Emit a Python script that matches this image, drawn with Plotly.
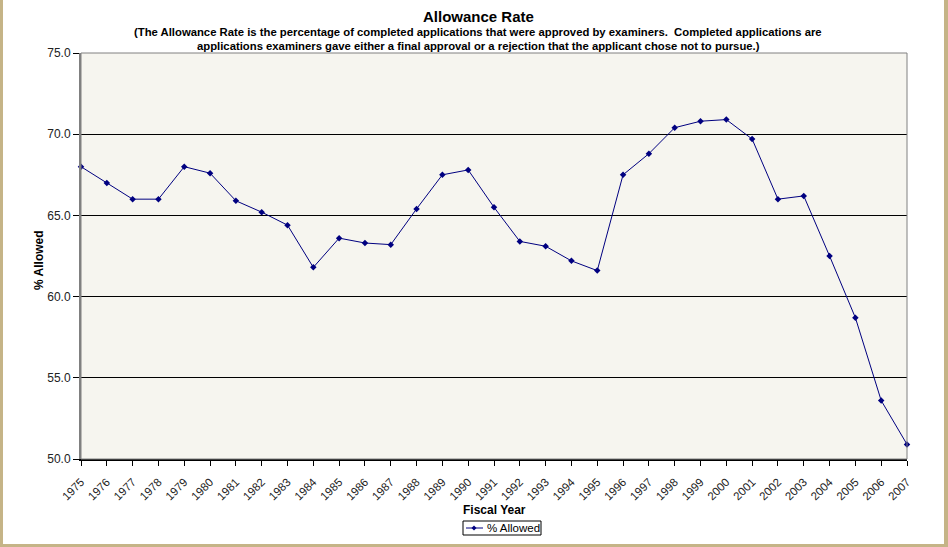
import plotly.graph_objects as go

# Fiscal years and allowance rate (% of completed applications approved)
years = list(range(1975, 2008))
pct_allowed = [68.0, 67.0, 66.0, 66.0, 68.0, 67.6, 65.9, 65.2, 64.4, 61.8,
               63.6, 63.3, 63.2, 65.4, 67.5, 67.8, 65.5, 63.4, 63.1, 62.2,
               61.6, 67.5, 68.8, 70.4, 70.8, 70.9, 69.7, 66.0, 66.2, 62.5,
               58.7, 53.6, 50.9]
y_ticks = [50, 55, 60, 65, 70, 75]

title_text = "Allowance Rate"
subtitle_lines = [
    "(The Allowance Rate is the percentage of completed applications that were approved by examiners.  Completed applications are",
    "applications examiners gave either a final approval or a rejection that the applicant chose not to pursue.)",
]
series_name = "% Allowed"

W, H = 948, 547
ML, MR, MT, MB = 81, 41, 53, 88
PW, PH = W - ML - MR, H - MT - MB


def px(xp):
    return (xp - ML) / PW


def py(yp):
    return 1 - (yp - MT) / PH


FONT = "Liberation Sans, Arial, sans-serif"
BORDER = "#c5b487"
NAVY = "#000080"

fig = go.Figure()
fig.add_trace(go.Scatter(
    x=years, y=pct_allowed, mode="lines+markers", name=series_name,
    line=dict(color=NAVY, width=1),
    marker=dict(symbol="diamond", size=5, color=NAVY),
    cliponaxis=False, showlegend=False,
))

# legend key drawn below the axis title
lg_x0, lg_x1, lg_y0, lg_y1 = 463, 541, 521, 535
lg_cy = (lg_y0 + lg_y1) / 2
dx, dy = 2.5, 2.5
sym_cx = 474

shapes = [
    # plot frame
    dict(type="rect", xref="paper", yref="paper", x0=0, x1=1, y0=0, y1=1,
         line=dict(color="#808080", width=1), layer="above"),
    # page border strips
    dict(type="rect", xref="paper", yref="paper", x0=px(0), x1=px(3),
         y0=py(H), y1=py(0), fillcolor=BORDER, line=dict(width=0)),
    dict(type="rect", xref="paper", yref="paper", x0=px(944), x1=px(W),
         y0=py(H), y1=py(0), fillcolor=BORDER, line=dict(width=0)),
    dict(type="rect", xref="paper", yref="paper", x0=px(0), x1=px(W),
         y0=py(H), y1=py(544), fillcolor=BORDER, line=dict(width=0)),
    # legend key
    dict(type="rect", xref="paper", yref="paper", x0=px(lg_x0), x1=px(lg_x1),
         y0=py(lg_y1), y1=py(lg_y0), fillcolor="white",
         line=dict(color="#000", width=1)),
    dict(type="line", xref="paper", yref="paper", x0=px(466), x1=px(483),
         y0=py(lg_cy), y1=py(lg_cy), line=dict(color=NAVY, width=1)),
    dict(type="path", xref="paper", yref="paper",
         path=(f"M {px(sym_cx - dx)} {py(lg_cy)} L {px(sym_cx)} {py(lg_cy - dy)} "
               f"L {px(sym_cx + dx)} {py(lg_cy)} L {px(sym_cx)} {py(lg_cy + dy)} Z"),
         fillcolor=NAVY, line=dict(color=NAVY, width=0)),
]

annotations = [
    dict(text="<b>" + title_text + "</b>", x=px(478), y=py(16), xref="paper",
         yref="paper", showarrow=False, font=dict(family=FONT, size=15, color="#000"),
         xanchor="center", yanchor="middle"),
    dict(text="<b>" + subtitle_lines[0] + "</b>", x=px(478), y=py(32), xref="paper",
         yref="paper", showarrow=False, font=dict(family=FONT, size=11.3, color="#000"),
         xanchor="center", yanchor="middle"),
    dict(text="<b>" + subtitle_lines[1] + "</b>", x=px(478), y=py(46), xref="paper",
         yref="paper", showarrow=False, font=dict(family=FONT, size=11.3, color="#000"),
         xanchor="center", yanchor="middle"),
    dict(text="<b>Fiscal Year</b>", x=px(494), y=py(510), xref="paper",
         yref="paper", showarrow=False, font=dict(family=FONT, size=12, color="#000"),
         xanchor="center", yanchor="middle"),
    dict(text="<b>% Allowed</b>", x=px(39), y=py(260), xref="paper",
         yref="paper", showarrow=False, textangle=-90,
         font=dict(family=FONT, size=12, color="#000"),
         xanchor="center", yanchor="middle"),
    dict(text=series_name, x=px(485), y=py(lg_cy), xref="paper", yref="paper",
         showarrow=False, font=dict(family=FONT, size=11.5, color="#000"),
         xanchor="left", yanchor="middle"),
]

fig.update_layout(
    width=W, height=H, autosize=False,
    margin=dict(l=ML, r=MR, t=MT, b=MB, pad=0),
    paper_bgcolor="white", plot_bgcolor="#f6f5ef",
    font=dict(family=FONT, size=11, color="#000"),
    shapes=shapes, annotations=annotations,
    showlegend=False,
)
fig.update_xaxes(
    range=[1975, 2007], tickmode="array", tickvals=years,
    ticktext=[str(y) for y in years], tickangle=-45,
    tickfont=dict(family=FONT, size=11.5, color="#222"),
    ticks="outside", ticklen=5, tickcolor="#000", tickwidth=1,
    ticklabelstandoff=5,
    showline=True, linecolor="#000", linewidth=1.5,
    showgrid=False, zeroline=False,
)
fig.update_yaxes(
    range=[50, 75], tickmode="array", tickvals=y_ticks,
    ticktext=[f"{v:.1f}" for v in y_ticks],
    tickfont=dict(family=FONT, size=12, color="#222"),
    ticks="outside", ticklen=6, tickcolor="#000", tickwidth=1,
    showline=True, linecolor="#808080", linewidth=2,
    showgrid=True, gridcolor="#000", gridwidth=1, zeroline=False,
)

fig.write_html("out.html", config={"responsive": False})
